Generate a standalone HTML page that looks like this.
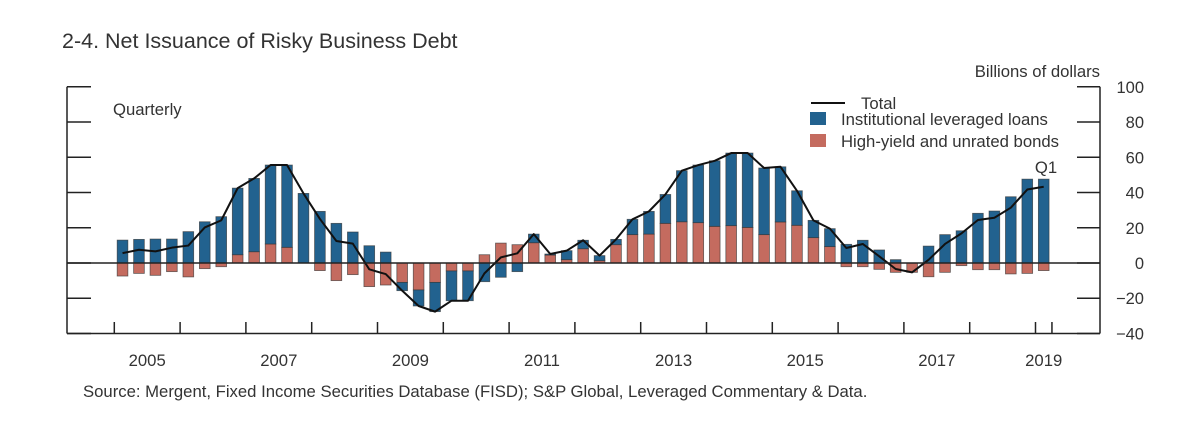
<!DOCTYPE html>
<html><head><meta charset="utf-8">
<style>
body{margin:0;background:#fff;}
svg text{font-family:"Liberation Sans",sans-serif;fill:#333;}
</style></head>
<body>
<svg width="1203" height="440" viewBox="0 0 1203 440">
<text x="62" y="48" font-size="21.5">2-4. Net Issuance of Risky Business Debt</text>
<text x="1100" y="77" font-size="16.7" text-anchor="end">Billions of dollars</text>
<text x="113" y="115" font-size="16.7">Quarterly</text>
<g id="plot"></g>
<g id="axes"></g>
<g>
<line x1="811" y1="103" x2="845" y2="103" stroke="#111" stroke-width="2"/>
<text x="861" y="109" font-size="16.7">Total</text>
<rect x="810" y="112" width="16" height="13" fill="#22628f"/>
<text x="841" y="125" font-size="16.7">Institutional leveraged loans</text>
<rect x="810" y="134" width="16" height="13" fill="#c46b5f"/>
<text x="841" y="147" font-size="16.7">High-yield and unrated bonds</text>
</g>
<text x="1046" y="173" font-size="16.7" text-anchor="middle">Q1</text>
<text x="83" y="397" font-size="16.7">Source: Mergent, Fixed Income Securities Database (FISD); S&amp;P Global, Leveraged Commentary &amp; Data.</text>
</svg>
<script>
const years = [2005,2006,2007,2008,2009,2010,2011,2012,2013,2014,2015,2016,2017,2018,2019];
const yearLabels = ["2005","2007","2009","2011","2013","2015","2017","2019"];
const yTicks = [-40,-20,0,20,40,60,80,100];
const yTickLabels = ["\u221240","\u221220","0","20","40","60","80","100"];
const loans = [13.0,13.4,13.6,13.6,17.8,23.4,26.3,37.8,41.6,44.8,46.7,39.5,29.3,22.5,17.6,9.8,6.2,-4.7,-9.1,-16.6,-16.9,-16.9,-10.6,-8.1,-4.9,4.9,0.6,5.1,4.8,2.9,3.0,8.7,12.9,16.4,29.0,32.7,37.2,41.2,42.2,37.8,31.3,19.6,9.8,10.2,10.6,12.9,7.4,1.9,0,9.6,16.1,18.3,28.2,29.5,37.6,47.6,47.6];
const bonds = [-7.4,-5.9,-7.0,-4.9,-7.9,-3.2,-2.1,4.7,6.4,10.8,8.9,0,-4.3,-10,-6.6,-13.4,-12.5,-11,-15.3,-11,-4.5,-4.5,4.7,11.3,10.4,11.5,4.5,1.9,8.1,1.3,10.4,16.1,16.4,22.5,23.4,22.9,20.8,21.2,20.2,16.1,23.3,21.4,14.4,9.3,-2.1,-2.1,-3.6,-5.3,-5.3,-7.8,-5.3,-1.5,-3.8,-3.8,-6.2,-5.9,-4.3];
const NS="http://www.w3.org/2000/svg";
const X0=114.3, QW=16.45, BW=10.7;
function xq(i){return X0+QW*(i+0.5);}
function y(v){return 263-v*1.762;}
function mk(t,a,p){const e=document.createElementNS(NS,t);for(const k in a)e.setAttribute(k,a[k]);p.appendChild(e);return e;}
const plot=document.getElementById('plot'), axes=document.getElementById('axes');
const BLUE="#22628f", RED="#c46b5f";
function bar(x0,v0,v1,fill,name){
  const top=y(Math.max(v0,v1)), bot=y(Math.min(v0,v1));
  const r=mk('rect',{x:x0,y:top,width:BW,height:Math.max(bot-top,0),fill:fill,stroke:"#333","stroke-width":0.8,"stroke-opacity":0.7},plot);
  
  
}
const totals=[];
loans.forEach((L,i)=>{
  const B=bonds[i], x0=xq(i)-BW/2;
  if((B>=0&&L>=0)||(B<0&&L<0)){bar(x0,0,B,RED,'bar-bonds');bar(x0,B,B+L,BLUE,'bar-loans');}
  else{bar(x0,0,B,RED,'bar-bonds');bar(x0,0,L,BLUE,'bar-loans');}
  totals.push(L+B);
});
mk('line',{x1:67,y1:y(0),x2:1100,y2:y(0),stroke:"#222","stroke-width":1.5},axes);
const pl=mk('polyline',{points:totals.map((t,i)=>xq(i)+","+y(t)).join(" "),fill:"none",stroke:"#111","stroke-width":2,"stroke-linejoin":"round"},plot);


mk('line',{x1:67,y1:y(100),x2:67,y2:y(-40),stroke:"#222","stroke-width":1.5},axes);
mk('line',{x1:1100,y1:y(100),x2:1100,y2:y(-40),stroke:"#222","stroke-width":1.5},axes);
mk('line',{x1:67,y1:y(-40),x2:1100,y2:y(-40),stroke:"#222","stroke-width":1.5},axes);
yTicks.forEach((v,i)=>{
  mk('line',{x1:67,y1:y(v),x2:91,y2:y(v),stroke:"#222","stroke-width":1.5},axes);
  mk('line',{x1:1077,y1:y(v),x2:1100,y2:y(v),stroke:"#222","stroke-width":1.5},axes);
  const t=mk('text',{x:1144,y:y(v)+6,"font-size":16.5,"text-anchor":"end"},axes);
  t.textContent=yTickLabels[i];
  
  
});
years.forEach((yr,i)=>{
  const x=X0+i*4*QW;
  mk('line',{x1:x,y1:322,x2:x,y2:334,stroke:"#222","stroke-width":1.5},axes);
});
mk('line',{x1:X0+loans.length*QW,y1:322,x2:X0+loans.length*QW,y2:334,stroke:"#222","stroke-width":1.5},axes);
yearLabels.forEach(l=>{
  const i=years.indexOf(+l);
  const nq=Math.min(4,loans.length-i*4);
  const t=mk('text',{x:X0+i*4*QW+nq/2*QW,y:366,"font-size":16.7,"text-anchor":"middle"},axes);
  t.textContent=l;
  
  
});
</script>
</body></html>
